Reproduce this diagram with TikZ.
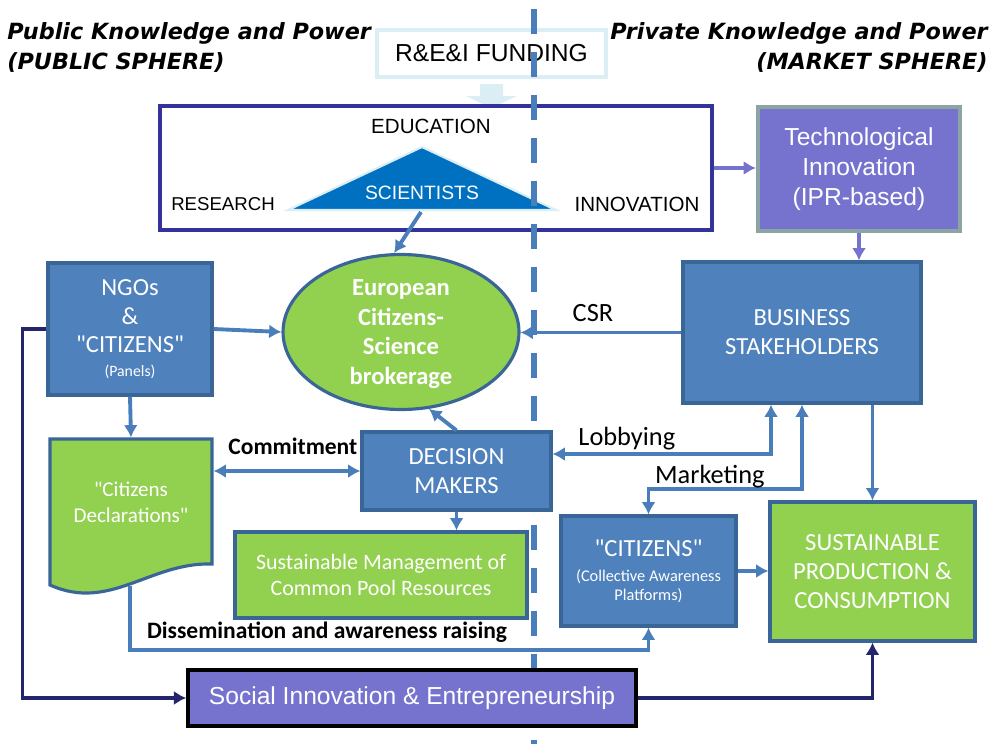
\documentclass[tikz,border=0pt]{standalone}
\usepackage{fontspec}
\setmainfont{Carlito}[Ligatures=TeXOff]
\newfontfamily\arialfont{Liberation Sans}
\newfontfamily\titlefont{DejaVu Sans}
\usetikzlibrary{shapes.geometric,arrows.meta}

\definecolor{boxblue}{HTML}{4F81BD}
\definecolor{boxline}{HTML}{3A6597}
\definecolor{linkblue}{HTML}{4A7EBB}
\definecolor{boxgreen}{HTML}{92D050}
\definecolor{boxpurple}{HTML}{7673CF}
\definecolor{techline}{HTML}{8CA4A4}
\definecolor{eduline}{HTML}{333399}
\definecolor{navy}{HTML}{25256E}
\definecolor{fundline}{HTML}{DAEEF3}
\definecolor{sciblue}{HTML}{0070C0}

\newcommand\notefont{\fontsize{9.3}{10.8}\selectfont}

\tikzset{
  box/.style={draw=boxline, line width=1.8pt, text=white, align=center, inner sep=0pt,
    font=\fontsize{14}{16.4}\selectfont},
  bluebox/.style={box, fill=boxblue},
  greenbox/.style={box, fill=boxgreen},
  edutext/.style={font=\arialfont\fontsize{11.7}{14}\selectfont},
  link/.style={draw=linkblue, line width=2.2pt, -{Latex[length=7pt,width=8pt]}},
  twolink/.style={link, {Latex[length=7pt,width=8pt]}-{Latex[length=7pt,width=8pt]}},
  navylink/.style={link, draw=navy},
  purplelink/.style={link, draw=boxpurple},
  lbl/.style={inner sep=0pt, text depth=4pt, font=\fontsize{15}{17}\selectfont},
  boldlbl/.style={lbl, font=\fontsize{13.4}{15}\selectfont\bfseries}
}

\begin{document}
\begin{tikzpicture}[x=0.02cm, y=-0.02cm]
\useasboundingbox (0,0) rectangle (1001,744);

% sphere titles
\node[anchor=north west, inner sep=0pt, align=left,
  font=\titlefont\bfseries\itshape\fontsize{12.7}{17}\selectfont] (pubtitle) at (7,22)
  {Public Knowledge and Power\\(PUBLIC SPHERE)};
\node[anchor=north east, inner sep=0pt, align=right,
  font=\titlefont\bfseries\itshape\fontsize{12.7}{17}\selectfont] (privtitle) at (988,22)
  {Private Knowledge and Power\\(MARKET SPHERE)};

% funding
\node[draw=fundline, line width=2pt, minimum width=4.58cm, minimum height=0.94cm,
  font=\arialfont\fontsize{14}{16}\selectfont] (funding) at (491.5,53.5) {R\&E\&I FUNDING};
\fill[fundline] (480,84) -- (503,84) -- (503,96) -- (517,96) -- (491.5,108)
  -- (466,96) -- (480,96) -- cycle;

% education / research / innovation
\node[draw=eduline, line width=1.8pt, minimum width=11.04cm, minimum height=2.48cm] (edu) at (436,168) {};
\node[edutext] (education) at (431,126) {EDUCATION};
\node[edutext, font=\arialfont\fontsize{10.6}{13}\selectfont] (research) at (223,204) {RESEARCH};
\node[edutext] (innovation) at (637,204) {INNOVATION};
\filldraw[fill=sciblue, draw=fundline, line width=1.2pt] (422,147) -- (556,210) -- (288,210) -- cycle;
\node[text=white, font=\arialfont\fontsize{11}{13}\selectfont] (scientists) at (422,193) {SCIENTISTS};
\coordinate (sci) at (421,212);

% public / market border
\draw[linkblue, line width=3.8pt, dash pattern=on 0.5cm off 0.36cm] (534,9) -- (534,744);

% boxes
\node[box, fill=boxpurple, draw=techline, line width=2.4pt, minimum width=4.04cm, minimum height=2.48cm,
  font=\arialfont\fontsize{14}{17}\selectfont] (tech) at (859,169)
  {Technological\\Innovation\\(IPR-based)};
\node[bluebox, minimum width=4.76cm, minimum height=2.82cm] (biz) at (802,332.5) {BUSINESS\\STAKEHOLDERS};
\node[bluebox, minimum width=3.28cm, minimum height=2.64cm] (ngos) at (130,329)
  {NGOs\\\&\\"CITIZENS"\\[-3pt]{\fontsize{9}{11}\selectfont (Panels)}};
\node[greenbox, ellipse, minimum width=4.72cm, minimum height=3.1cm, text depth=0pt,
  font=\fontsize{14}{16.9}\selectfont\bfseries] (brk) at (401,332) {European\\Citizens-\\Science\\brokerage};
\filldraw[fill=boxgreen, draw=boxline, line width=1.8pt] (50,439) -- (212,439) -- (212,564)
  .. controls (150,562) and (110,612) .. (50,585) -- cycle;
\node[box, draw=none, minimum width=3.24cm, minimum height=2.52cm,
  font=\fontsize{12}{14.7}\selectfont] (decl) at (131,502) {"Citizens\\Declarations"};
\coordinate (declb) at (130,586);
\node[bluebox, minimum width=3.78cm, minimum height=1.56cm] (dm) at (456.5,471) {DECISION\\MAKERS};
\node[greenbox, minimum width=5.84cm, minimum height=1.72cm,
  font=\fontsize{12.5}{14.7}\selectfont] (sm) at (381,575) {Sustainable Management of\\Common Pool Resources};
\node[bluebox, minimum width=3.5cm, minimum height=2.2cm] (cit) at (648.5,571)
  {"CITIZENS"\\[-2pt]{\notefont (Collective Awareness}\\[-5.6pt]{\notefont Platforms)}};
\node[greenbox, minimum width=4.1cm, minimum height=2.78cm] (spc) at (872.5,571.5)
  {SUSTAINABLE\\PRODUCTION \&\\CONSUMPTION};
\node[box, fill=boxpurple, draw=black, line width=2pt, minimum width=8.96cm, minimum height=1.12cm,
  font=\arialfont\fontsize{14}{16}\selectfont] (social) at (412,698) {Social Innovation \& Entrepreneurship};

% connectors
\draw[link] (sci) -- (brk.95);
\draw[purplelink] (edu.east) -- (edu.east -| tech.west);
\draw[purplelink] (tech.south) -- (tech.south |- biz.north);
\draw[link] (ngos.east) -- (brk.west);
\draw[link] (biz.west) -- node[lbl, above=1.1pt, pos=0.55] {CSR} (biz.west -| brk.east);
\draw[link] (ngos.south) -- (decl.north);
\draw[twolink] (dm.west -| decl.east) -- node[boldlbl, above=4.3pt, pos=0.54] {Commitment} (dm.west);
\draw[link] (dm.north) -- (brk.290);
\draw[link] (dm.south) -- (dm.south |- sm.north);
\draw[twolink] ([xshift=-0.62cm]biz.south) |- node[lbl, pos=0.83, above=0pt] {Lobbying} ([yshift=0.34cm]dm.east);
\draw[twolink] (biz.south) -- ++(0,84) -| node[lbl, pos=0.3, above=-2pt] {Marketing} (cit.north);
\draw[link] (spc.north |- biz.south) -- (spc.north);
\draw[link] (cit.east) -- (cit.east -| spc.west);
\draw[link] (declb) -- ++(0,64) -| node[boldlbl, pos=0.19, above=1.3pt] {Dissemination and awareness raising} (cit.south);
\draw[navylink] (ngos.west) -- ++(-24,0) |- (social.west);
\draw[navylink] (social.east) -| (spc.south);
\end{tikzpicture}
\end{document}
